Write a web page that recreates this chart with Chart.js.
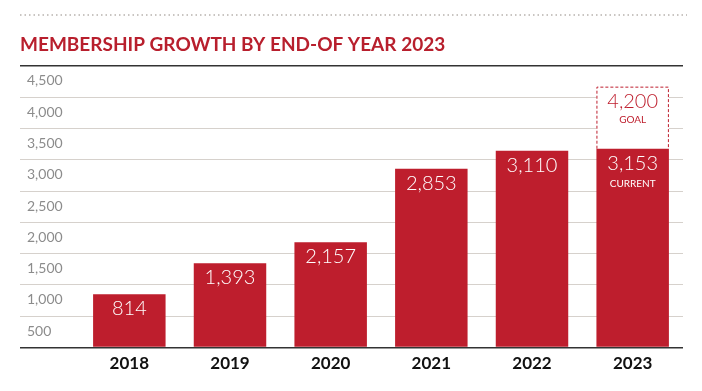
<!DOCTYPE html>
<html>
<head>
<meta charset="utf-8">
<script src="https://cdn.jsdelivr.net/npm/chart.js@4"></script>
<style>
  html, body { margin: 0; padding: 0; background: #fff; }
</style>
</head>
<body>
<canvas id="myChart" width="702" height="391"></canvas>
<script>
'use strict';

// chart data up here
let years = ['2018', '2019', '2020', '2021', '2022', '2023'];
// bar heights as drawn in the picture (2020 is drawn shorter than its label says)
let barHeights = [850, 1345, 1684, 2856, 3144, 3176];
// the numbers printed on the bars
let memberLabels = [814, 1393, 2157, 2853, 3110, 3153];
let goalHeight = 4167; // top of the dashed goal box as drawn
let goalLabel = 4200;
let currentIndex = 5; // the 2023 bar gets the CURRENT / GOAL treatment
let yMin = 0;
let yMax = 4500;
let yStep = 500;

const red = '#be1e2d';
const darkLine = '#333333';
const lightLine = '#d6d1cc';

// goal bar only exists for the current year, floats from current bar up to goal
let goalBars = years.map((y, i) => (i === currentIndex ? [barHeights[i], goalHeight] : null));

function fmt(n) {
  return n.toLocaleString('en-US');
}

// dotted rule above the title
const topRule = {
  id: 'topRule',
  beforeDraw(chart) {
    const ctx = chart.ctx;
    ctx.save();
    ctx.strokeStyle = '#b8b3ae';
    ctx.lineWidth = 1.5;
    ctx.setLineDash([1.5, 3]);
    ctx.beginPath();
    ctx.moveTo(20, 15);
    ctx.lineTo(687, 15);
    ctx.stroke();
    ctx.restore();
  }
};

// nudge the y labels in a bit from the gridline start
const nudgeY = {
  id: 'nudgeY',
  afterLayout(chart) {
    chart.scales.y.left = 27;
  }
};

// white numbers in the bars + dashed goal box
const barText = {
  id: 'barText',
  afterDatasetsDraw(chart) {
    const ctx = chart.ctx;
    const meta = chart.getDatasetMeta(0);
    ctx.save();
    ctx.textAlign = 'center';
    ctx.textBaseline = 'alphabetic';
    meta.data.forEach((bar, i) => {
      ctx.fillStyle = '#ffffff';
      ctx.font = '300 20px Lato';
      ctx.fillText(fmt(memberLabels[i]), bar.x, bar.y + 21);
      if (i === currentIndex) {
        ctx.font = '10px Lato';
        ctx.fillText('CURRENT', bar.x, bar.y + 38);
      }
    });

    const g = chart.getDatasetMeta(1).data[currentIndex];
    const left = g.x - g.width / 2;
    const right = g.x + g.width / 2;
    ctx.strokeStyle = red;
    ctx.lineWidth = 1;
    ctx.setLineDash([3, 2]);
    ctx.beginPath();
    ctx.moveTo(left + 0.5, g.base);
    ctx.lineTo(left + 0.5, g.y + 0.5);
    ctx.lineTo(right - 0.5, g.y + 0.5);
    ctx.lineTo(right - 0.5, g.base);
    ctx.stroke();
    ctx.setLineDash([]);
    ctx.fillStyle = red;
    ctx.font = '300 20px Lato';
    ctx.fillText(fmt(goalLabel), g.x, g.y + 21);
    ctx.font = '10px Lato';
    ctx.fillText('GOAL', g.x, g.y + 36);
    ctx.restore();
  }
};

function gridColor(ctx) {
  if (ctx.tick && (ctx.tick.value === yMin || ctx.tick.value === yMax)) {
    return darkLine;
  }
  return lightLine;
}

function gridWidth(ctx) {
  if (ctx.tick && (ctx.tick.value === yMin || ctx.tick.value === yMax)) {
    return 1.5;
  }
  return 1;
}

const data = {
  labels: years,
  datasets: [{
    label: 'Members',
    data: barHeights,
    backgroundColor: red,
    borderWidth: 0,
    grouped: false,
    categoryPercentage: 1,
    barPercentage: 0.72
  },
  {
    label: 'Goal',
    data: goalBars,
    backgroundColor: '#ffffff',
    borderWidth: 0,
    grouped: false,
    categoryPercentage: 1,
    barPercentage: 0.72
  }]
};

const config = {
  type: 'bar',
  data: data,
  options: {
    responsive: false,
    animation: false,
    devicePixelRatio: 1,
    layout: {
      padding: { left: 20, right: 19, top: 0, bottom: 11 }
    },
    plugins: {
      legend: { display: false },
      tooltip: { enabled: false },
      title: {
        display: true,
        text: 'MEMBERSHIP GROWTH BY END-OF YEAR 2023',
        align: 'start',
        color: '#b81f2d',
        font: { family: 'Lato', size: 19, weight: 'bold' },
        padding: { top: 33, bottom: 10 }
      }
    },
    scales: {
      x: {
        grid: { display: false, drawTicks: false },
        border: { display: false },
        ticks: {
          color: '#111111',
          font: { family: 'Lato', size: 17, weight: 'bold' },
          padding: 6
        }
      },
      y: {
        min: yMin,
        max: yMax,
        border: { display: false },
        grid: {
          color: gridColor,
          tickColor: gridColor,
          lineWidth: gridWidth,
          tickLength: 59
        },
        ticks: {
          stepSize: yStep,
          crossAlign: 'far',
          labelOffset: 15,
          color: '#8c8c8c',
          font: { family: 'Lato', size: 14 },
          callback: (v) => (v === 0 ? '' : fmt(v))
        },
        afterFit: (scale) => {
          scale.width = 59;
        }
      }
    }
  },
  plugins: [topRule, nudgeY, barText]
};

const myChart = new Chart(document.getElementById('myChart'), config);
</script>
</body>
</html>
